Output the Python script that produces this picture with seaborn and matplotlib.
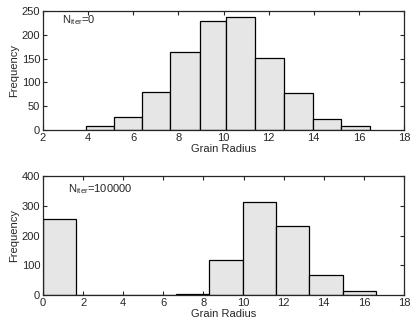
import numpy as np
import matplotlib
matplotlib.use('Agg')
import matplotlib.pyplot as plt
import seaborn as sns

# top panel, N_iter = 0
edges_0 = [3.9, 5.15, 6.4, 7.65, 8.95, 10.1, 11.4, 12.7, 13.95, 15.2, 16.5]
counts_0 = [8, 27, 79, 163, 228, 238, 151, 77, 23, 8]

# bottom panel, N_iter = 100000
edges_1 = [0, 1.66, 3.32, 4.98, 6.64, 8.3, 9.96, 11.62, 13.28, 14.94, 16.6]
counts_1 = [255, 0, 0, 0, 3, 117, 312, 232, 68, 15]

labels = ['0', '100000']

sns.set_style('ticks')
plt.rcParams['font.family'] = ['Liberation Sans', 'DejaVu Sans']
plt.rcParams['font.size'] = 8
plt.rcParams['xtick.direction'] = 'in'
plt.rcParams['ytick.direction'] = 'in'

fig = plt.figure(figsize=(4.15, 3.25), dpi=100)
ax1 = fig.add_axes([43/415, 1 - 130/325, 361/415, 119/325])
ax2 = fig.add_axes([43/415, 1 - 295/325, 361/415, 119/325])

panels = [(ax1, edges_0, counts_0, (2, 18), 250, 50, (0.053, 0.985)),
          (ax2, edges_1, counts_1, (0, 18), 400, 100, (0.07, 0.945))]

for (ax, edges, counts, xlim, ymax, ystep, tpos), lab in zip(panels, labels):
    e = np.array(edges)
    centers = (e[:-1] + e[1:]) / 2
    sns.histplot(x=centers, weights=counts, bins=edges, ax=ax,
                 color='#e6e6e6', edgecolor='black', linewidth=0.9, alpha=1)
    ax.set_xlim(*xlim)
    ax.set_ylim(0, ymax)
    ax.set_xticks(range(xlim[0], 19, 2))
    ax.set_yticks(range(0, ymax + 1, ystep))
    ax.tick_params(top=True, right=True, length=3, width=0.8, labelsize=8, pad=2)
    for s in ax.spines.values():
        s.set_visible(True)
        s.set_linewidth(0.9)
    ax.set_xlabel('Grain Radius', fontsize=8, labelpad=1)
    ax.set_ylabel('Frequency', fontsize=8, labelpad=2)
    ax.text(tpos[0], tpos[1], r'N$_{\mathregular{iter}}$=' + lab, transform=ax.transAxes,
            fontsize=8, va='top', ha='left')

fig.savefig('out.png', dpi=100)
